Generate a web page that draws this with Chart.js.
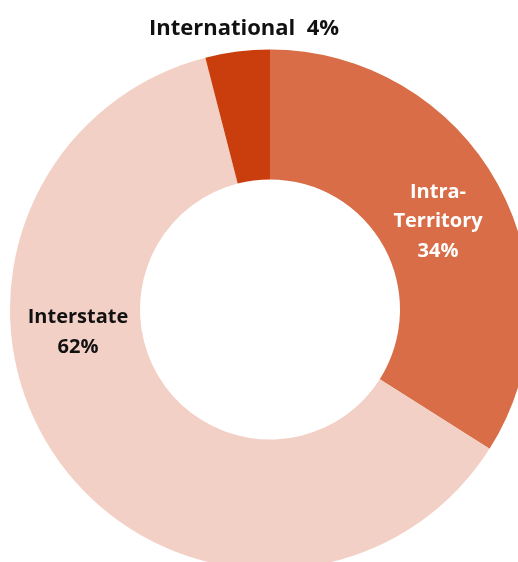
<!DOCTYPE html>
<html>
<head>
<meta charset="utf-8">
<script src="https://cdn.jsdelivr.net/npm/chart.js@4.4.1/dist/chart.umd.min.js"></script>
<style>
  html, body { margin: 0; padding: 0; background: #ffffff; overflow: hidden; }
  #wrap { position: absolute; left: 0; top: 0; width: 540px; height: 619px; }
</style>
</head>
<body>
<div id="wrap"><canvas id="chart"></canvas></div>
<script>
// Share of trips by destination type
const categories = ['Intra-Territory', 'Interstate', 'International'];
const shares = [34, 62, 4];
const labelLines = [['Intra-', 'Territory', '34%'], ['Interstate', '62%'], ['International  4%']];

const colors = ['#D96D48', '#F3D0C5', '#C93E0C'];
const textColors = ['#ffffff', '#111111', '#111111'];
const fontSizes = [20, 20, 22];
// label anchors relative to the donut centre (dx, dy in px)
const labelOffsets = [[168, -88], [-192, 23], [-26, -281]];

const sliceLabels = {
  id: 'sliceLabels',
  afterDatasetsDraw(chart) {
    const ctx = chart.ctx;
    const arc = chart.getDatasetMeta(0).data[0];
    const cx = arc.x, cy = arc.y;
    ctx.save();
    ctx.textAlign = 'center';
    ctx.textBaseline = 'middle';
    const lh = 29.5;
    labelLines.forEach((lines, i) => {
      ctx.font = 'bold ' + fontSizes[i] + 'px "Open Sans"';
      ctx.fillStyle = textColors[i];
      const x = cx + labelOffsets[i][0];
      const y0 = cy + labelOffsets[i][1] - (lines.length - 1) * lh / 2;
      lines.forEach((t, k) => ctx.fillText(t, x, y0 + k * lh));
    });
    ctx.restore();
  }
};

new Chart(document.getElementById('chart'), {
  type: 'doughnut',
  data: {
    labels: categories,
    datasets: [{
      data: shares,
      backgroundColor: colors,
      borderWidth: 0
    }]
  },
  options: {
    responsive: true,
    maintainAspectRatio: false,
    animation: false,
    cutout: '50%',
    layout: { padding: { left: 10, right: 10, top: 49.5, bottom: 49.5 } },
    plugins: { legend: { display: false }, tooltip: { enabled: false } }
  },
  plugins: [sliceLabels]
});
</script>
</body>
</html>
